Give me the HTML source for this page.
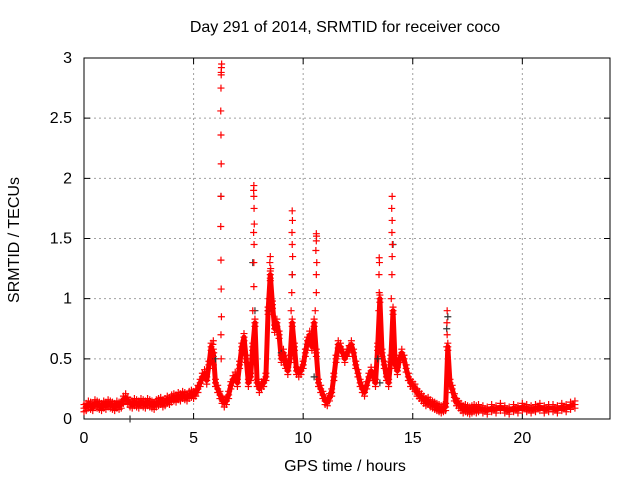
<!DOCTYPE html>
<html><head><meta charset="utf-8"><style>
body{margin:0;background:#fff;font-family:"Liberation Sans",sans-serif}
svg text{font-family:"Liberation Sans",sans-serif;font-size:16px;fill:#000}
</style></head><body>
<svg id="c" width="640" height="480" xmlns="http://www.w3.org/2000/svg">
<rect width="640" height="480" fill="#fff"/>
<text x="345" y="32" text-anchor="middle">Day 291 of 2014, SRMTID for receiver coco</text>
<text x="345" y="471" text-anchor="middle">GPS time / hours</text>
<text transform="translate(19,240) rotate(-90)" text-anchor="middle">SRMTID / TECUs</text>
<g id="grid"></g><g id="axes"></g><g id="marks"></g>
</svg>
<script>
const xTicks=[0,5,10,15,20];
const yTicks=[0,0.5,1,1.5,2,2.5,3];
const yTickLabels=["0","0.5","1","1.5","2","2.5","3"];
const times=[0,0.1,0.2,0.3,0.4,0.5,0.6,0.7,0.8,0.9,1.0,1.1,1.2,1.3,1.4,1.5,1.6,1.7,1.8,1.9,2.0,2.1,2.2,2.3,2.4,2.5,2.6,2.7,2.8,2.9,3.0,3.1,3.2,3.3,3.4,3.5,3.6,3.7,3.8,3.9,4.0,4.1,4.2,4.3,4.4,4.5,4.6,4.7,4.8,4.9,5.0,5.1,5.2,5.3,5.4,5.5,5.6,5.7,5.8,5.9,6.0,6.1,6.2,6.3,6.4,6.5,6.6,6.7,6.8,6.9,7.0,7.1,7.2,7.3,7.4,7.5,7.6,7.7,7.8,7.9,8.0,8.1,8.2,8.3,8.4,8.5,8.6,8.7,8.8,8.9,9.0,9.1,9.2,9.3,9.4,9.5,9.6,9.7,9.8,9.9,10.0,10.1,10.2,10.3,10.4,10.5,10.6,10.7,10.8,10.9,11.0,11.1,11.2,11.3,11.4,11.5,11.6,11.7,11.8,11.9,12.0,12.1,12.2,12.3,12.4,12.5,12.6,12.7,12.8,12.9,13.0,13.1,13.2,13.3,13.4,13.5,13.6,13.7,13.8,13.9,14.0,14.1,14.2,14.3,14.4,14.5,14.6,14.7,14.8,14.9,15.0,15.1,15.2,15.3,15.4,15.5,15.6,15.7,15.8,15.9,16.0,16.1,16.2,16.3,16.4,16.5,16.6,16.7,16.8,16.9,17.0,17.1,17.2,17.3,17.4,17.5,17.6,17.7,17.8,17.9,18.0,18.2,18.4,18.6,18.8,19.0,19.2,19.4,19.6,19.8,20.0,20.2,20.4,20.6,20.8,21.0,21.2,21.4,21.6,21.8,22.0,22.2,22.4,22.6];
const values=[0.09,0.1,0.12,0.11,0.1,0.13,0.12,0.11,0.1,0.12,0.11,0.13,0.12,0.11,0.1,0.12,0.11,0.12,0.16,0.18,0.15,0.13,0.12,0.14,0.13,0.12,0.14,0.13,0.12,0.14,0.13,0.12,0.11,0.13,0.14,0.15,0.13,0.14,0.16,0.15,0.17,0.18,0.17,0.19,0.18,0.2,0.19,0.18,0.2,0.21,0.2,0.22,0.25,0.3,0.35,0.38,0.32,0.45,0.6,0.55,0.3,0.25,0.2,0.16,0.13,0.15,0.2,0.28,0.33,0.36,0.3,0.45,0.6,0.68,0.5,0.3,0.35,0.6,0.8,0.3,0.25,0.28,0.3,0.35,0.9,1.2,0.95,0.75,0.8,0.7,0.5,0.55,0.45,0.4,0.5,0.8,0.6,0.4,0.38,0.4,0.45,0.55,0.65,0.7,0.6,0.8,0.55,0.3,0.25,0.2,0.15,0.14,0.18,0.22,0.35,0.5,0.62,0.6,0.55,0.5,0.55,0.58,0.62,0.55,0.45,0.38,0.3,0.25,0.22,0.28,0.35,0.4,0.35,0.3,0.6,1.0,0.55,0.45,0.35,0.3,0.5,0.9,0.45,0.4,0.5,0.55,0.5,0.42,0.35,0.3,0.28,0.26,0.22,0.2,0.18,0.16,0.14,0.15,0.13,0.12,0.11,0.1,0.09,0.08,0.09,0.1,0.6,0.3,0.25,0.18,0.14,0.12,0.1,0.08,0.09,0.08,0.07,0.08,0.09,0.08,0.09,0.08,0.07,0.09,0.08,0.1,0.08,0.07,0.09,0.08,0.1,0.09,0.08,0.09,0.1,0.08,0.09,0.09,0.08,0.1,0.09,0.11,0.12];
const spikeTimes=[5.9,5.92,5.88,5.9,6.26,6.25,6.27,6.26,6.25,6.24,6.25,6.26,6.25,6.24,6.25,6.26,6.26,6.27,6.28,7.7,7.75,7.75,7.76,7.74,7.77,7.76,7.75,7.74,7.75,8.45,8.5,8.52,8.48,8.5,9.45,9.48,9.5,9.52,9.5,9.49,9.51,9.5,10.55,10.6,10.6,10.62,10.58,10.6,10.61,10.6,13.45,13.47,13.46,13.48,13.47,14.02,14.05,14.06,14.07,14.05,14.06,14.04,14.06,16.55,16.57,16.56,16.57];
const spikeValues=[0.45,0.55,0.62,0.65,0.5,0.7,0.85,1.08,1.32,1.6,1.85,2.12,2.36,2.56,2.75,2.86,2.88,2.92,2.95,0.9,1.1,1.3,1.45,1.55,1.62,1.75,1.85,1.9,1.94,1.0,1.15,1.25,1.3,1.35,0.9,1.05,1.2,1.35,1.45,1.55,1.65,1.73,0.9,1.05,1.2,1.3,1.4,1.48,1.52,1.54,0.9,1.05,1.2,1.3,1.34,1.0,1.2,1.35,1.45,1.55,1.65,1.75,1.85,0.6,0.7,0.8,0.9];
const blackTimes=[2.1,6.0,6.25,7.7,7.8,8.4,9.0,9.5,10.5,13.4,13.5,14.1,16.6,16.55];
const blackValues=[0.0,0.5,1.85,1.3,0.9,0.9,0.55,1.2,0.35,0.5,0.3,1.45,0.85,0.75];
const X0=84,X1=610,Y0=419,Y1=58;
const xs=t=>X0+(t/24)*(X1-X0);
const ys=v=>Y0-(v/3)*(Y0-Y1);
const NS="http://www.w3.org/2000/svg";
function mk(tag,parent){const e=document.createElementNS(NS,tag);parent.appendChild(e);return e;}
const grid=document.getElementById('grid'),axes=document.getElementById('axes'),marks=document.getElementById('marks');
xTicks.forEach(t=>{
 const x=xs(t);
 if(t>0){const l=mk('line',grid);
 l.setAttribute('x1',x);l.setAttribute('x2',x);l.setAttribute('y1',Y1);l.setAttribute('y2',Y0);l.setAttribute('stroke','#a0a0a0');l.setAttribute('stroke-dasharray','2,3');}
 const tk=mk('path',axes);
 tk.setAttribute('d',`M${x},${Y0}v-6M${x},${Y1}v6`);tk.setAttribute('stroke','#000');
 const tx=mk('text',axes);
 tx.setAttribute('x',x);tx.setAttribute('y',Y0+24);tx.setAttribute('text-anchor','middle');tx.textContent=t;
});
yTicks.forEach((v,i)=>{
 const y=ys(v);
 if(v>0&&v<3){const l=mk('line',grid);
 l.setAttribute('x1',X0);l.setAttribute('x2',X1);l.setAttribute('y1',y);l.setAttribute('y2',y);l.setAttribute('stroke','#a0a0a0');l.setAttribute('stroke-dasharray','2,3');}
 const tk=mk('path',axes);
 tk.setAttribute('d',`M${X0},${y}h6M${X1},${y}h-6`);tk.setAttribute('stroke','#000');
 const tx=mk('text',axes);
 tx.setAttribute('x',X0-12);tx.setAttribute('y',y+5);tx.setAttribute('text-anchor','end');tx.textContent=yTickLabels[i];
});
const fr=mk('rect',axes);
fr.setAttribute('x',X0);fr.setAttribute('y',Y1);fr.setAttribute('width',X1-X0);fr.setAttribute('height',Y0-Y1);fr.setAttribute('fill','none');fr.setAttribute('stroke','#000');
const pl=mk('polyline',marks);
pl.setAttribute('points',times.map((t,i)=>xs(t)+','+ys(values[i])).join(' '));
pl.setAttribute('fill','none');pl.setAttribute('stroke','#f00');pl.setAttribute('stroke-width','5');pl.setAttribute('stroke-linejoin','round');
function plus(t,v,col,name){
 const p=mk('path',marks);
 
 
 const x=xs(t),y=ys(v);
 p.setAttribute('d',`M${x-3.5},${y}h7M${x},${y-3.5}v7`);p.setAttribute('stroke',col);p.setAttribute('stroke-width','1.2');
}
blackTimes.forEach((t,i)=>plus(t,blackValues[i],'#333','black-point'));
times.forEach((t,i)=>{plus(t,values[i],'#f00','srmtid-point');plus(t,values[i]+0.03,'#f00','srmtid-point');plus(t,values[i]-0.03,'#f00','srmtid-point');});
spikeTimes.forEach((t,i)=>plus(t,spikeValues[i],'#f00','spike-point'));
</script>
</body></html>
